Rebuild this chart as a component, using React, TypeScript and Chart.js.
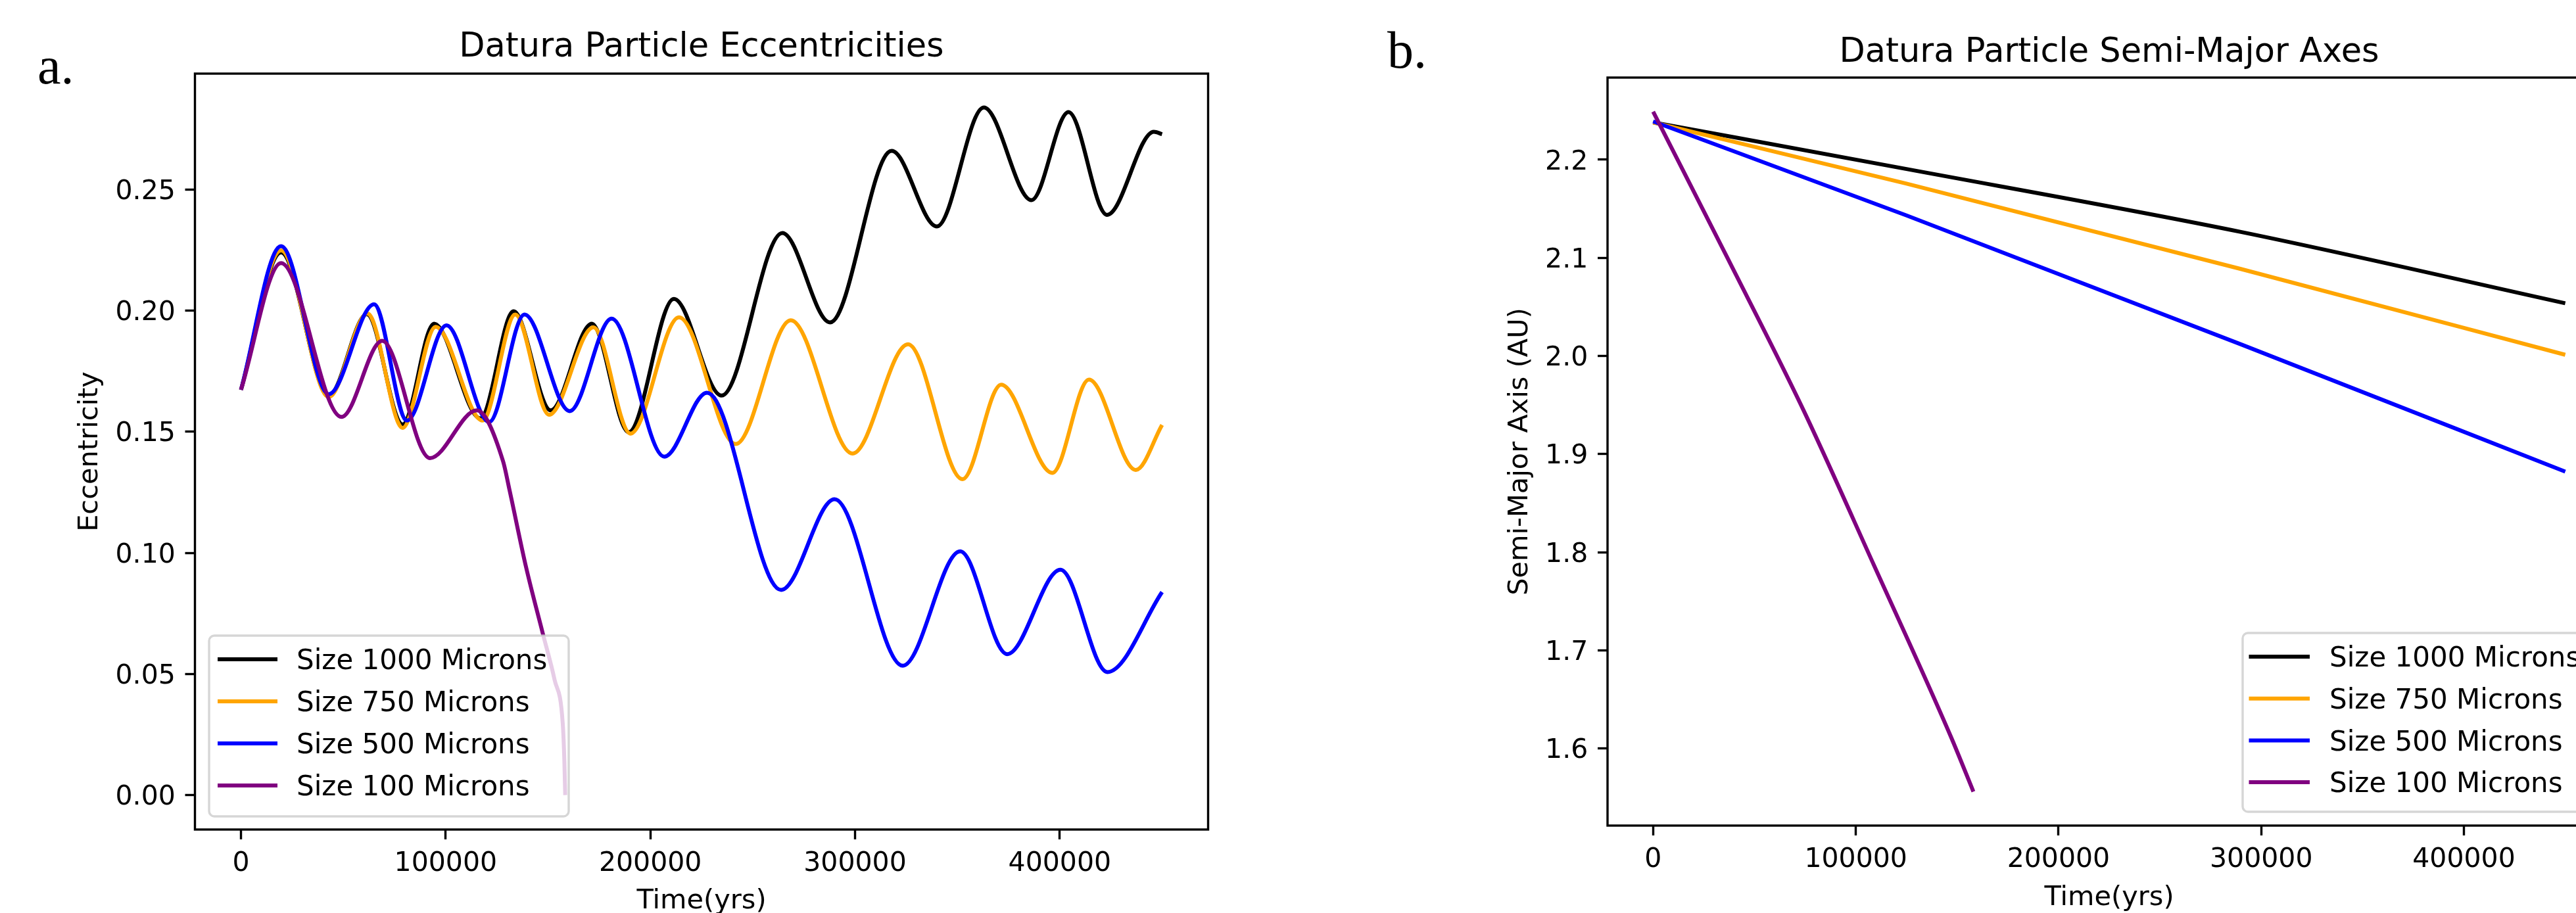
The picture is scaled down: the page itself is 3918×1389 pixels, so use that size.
import React, { useEffect, useRef } from "react";
import { Chart, registerables } from "chart.js";

Chart.register(...registerables);

const SANS = "'DejaVu Sans', 'Liberation Sans', sans-serif";
const SERIF = "'Liberation Serif', 'DejaVu Serif', serif";

// ---------- shared ----------
const seriesLabels = ["Size 1000 Microns", "Size 750 Microns", "Size 500 Microns", "Size 100 Microns"];
const seriesColors = ["#000000", "#ffa500", "#0000ff", "#800080"];
const timeTicks = [0, 100000, 200000, 300000, 400000];
const eccTicks = [0, 0.05, 0.1, 0.15, 0.2, 0.25];
const smaTicks = [1.6, 1.7, 1.8, 1.9, 2.0, 2.1, 2.2];

// ---------- panel a: eccentricities ----------
const ecc1000Time = [0, 19600, 42900, 61500, 79000, 94300, 117000, 133200, 151300, 171400, 189400, 211500, 234800, 264500, 287800, 317900, 340000, 362900, 386200, 404300, 423100, 446000, 450000];
const ecc1000Value = [0.1673, 0.224, 0.1649, 0.1985, 0.153, 0.1946, 0.1555, 0.1997, 0.1588, 0.1946, 0.1498, 0.2048, 0.1649, 0.232, 0.1951, 0.2659, 0.2347, 0.2838, 0.2456, 0.2819, 0.2395, 0.2738, 0.2728];

const ecc750Time = [0, 19600, 42900, 61800, 79000, 95100, 118000, 134000, 150500, 172200, 190300, 214000, 241700, 268600, 298800, 325900, 352500, 371400, 396400, 414300, 437200, 450000];
const ecc750Value = [0.1673, 0.2248, 0.1643, 0.1988, 0.1516, 0.1933, 0.1546, 0.1984, 0.157, 0.1931, 0.1492, 0.1972, 0.1449, 0.196, 0.141, 0.1861, 0.1304, 0.1694, 0.133, 0.1715, 0.1342, 0.1528];

const ecc500Time = [0, 19600, 42900, 65000, 81100, 100400, 121300, 138500, 160600, 181100, 206800, 227700, 263900, 290000, 323300, 351400, 374300, 400400, 423300, 450000];
const ecc500Value = [0.1673, 0.2266, 0.1655, 0.2026, 0.1546, 0.1939, 0.154, 0.1984, 0.1585, 0.1967, 0.1397, 0.1661, 0.0847, 0.1221, 0.0534, 0.1006, 0.0582, 0.093, 0.0508, 0.0838];

const ecc100Time = [0, 19600, 49100, 69000, 92300, 115200, 128000, 131200, 139300, 147300, 153200, 157200, 157950, 158400];
const ecc100Value = [0.1673, 0.2196, 0.1561, 0.1875, 0.1391, 0.1588, 0.1379, 0.1259, 0.094, 0.0672, 0.0476, 0.0295, 0.0151, 0.0];

// ---------- panel b: semi-major axes ----------
const sma1000Time = [0, 125000, 290000, 450000];
const sma1000Value = [2.238, 2.1905, 2.1264, 2.0537];
const sma750Time = [0, 125000, 290000, 450000];
const sma750Value = [2.238, 2.1756, 2.0886, 2.0012];
const sma500Time = [0, 125000, 290000, 450000];
const sma500Value = [2.239, 2.1432, 2.0118, 1.8821];
const sma100Time = [0, 37000, 74000, 109000, 147000, 158000];
const sma100Value = [2.249, 2.0985, 1.9455, 1.7865, 1.6115, 1.556];

const pts = (t: number[], v: number[]) => t.map((x, i) => ({ x, y: v[i] }));

function makeDatasets(series: { t: number[]; v: number[] }[]) {
  return series.map((s, i) => ({
    label: seriesLabels[i],
    data: pts(s.t, s.v),
    borderColor: seriesColors[i],
    backgroundColor: seriesColors[i],
    borderWidth: 6,
    pointRadius: 0,
    fill: false,
    tension: 0,
    cubicInterpolationMode: "monotone",
    borderJoinStyle: "round",
    order: 3 - i,
  }));
}

type Deco = {
  title: string;
  titleY: number;
  letter: string;
  letterX: number;
  letterY: number;
  lx: number; ly: number; lw: number; lh: number;
  row0: number; rowStep: number; h0: number; h1: number; tx: number;
};

function decoPlugin(d: Deco) {
  return {
    id: "deco",
    afterDraw(chart: any) {
      const ctx = chart.ctx as CanvasRenderingContext2D;
      const a = chart.chartArea;
      ctx.save();
      // frame
      ctx.strokeStyle = "#000";
      ctx.lineWidth = 3.4;
      ctx.strokeRect(a.left, a.top, a.right - a.left, a.bottom - a.top);
      // legend box
      const r = 8;
      const { lx, ly, lw, lh } = d;
      ctx.beginPath();
      ctx.moveTo(lx + r, ly);
      ctx.lineTo(lx + lw - r, ly);
      ctx.arcTo(lx + lw, ly, lx + lw, ly + r, r);
      ctx.lineTo(lx + lw, ly + lh - r);
      ctx.arcTo(lx + lw, ly + lh, lx + lw - r, ly + lh, r);
      ctx.lineTo(lx + r, ly + lh);
      ctx.arcTo(lx, ly + lh, lx, ly + lh - r, r);
      ctx.lineTo(lx, ly + r);
      ctx.arcTo(lx, ly, lx + r, ly, r);
      ctx.closePath();
      ctx.fillStyle = "rgba(255,255,255,0.8)";
      ctx.fill();
      ctx.strokeStyle = "rgba(204,204,204,0.8)";
      ctx.lineWidth = 3.4;
      ctx.stroke();
      ctx.font = `42px ${SANS}`;
      ctx.textAlign = "left";
      ctx.textBaseline = "alphabetic";
      seriesLabels.forEach((lab, i) => {
        const cy = d.row0 + i * d.rowStep;
        ctx.strokeStyle = seriesColors[i];
        ctx.lineWidth = 6;
        ctx.beginPath();
        ctx.moveTo(d.h0, cy);
        ctx.lineTo(d.h1, cy);
        ctx.stroke();
        ctx.fillStyle = "#000";
        ctx.fillText(lab, d.tx, cy + 15.3);
      });
      // title
      ctx.fillStyle = "#000";
      ctx.font = `51px ${SANS}`;
      ctx.textAlign = "center";
      ctx.fillText(d.title, (a.left + a.right) / 2, d.titleY);
      // panel letter
      ctx.font = `80px ${SERIF}`;
      ctx.textAlign = "left";
      ctx.fillText(d.letter, d.letterX, d.letterY);
      ctx.restore();
    },
  };
}

type Cfg = {
  top: number;
  padRight: number;
  yAxisW: number;
  xAxisH: number;
  yMin: number;
  yMax: number;
  yTicks: number[];
  yDec: number;
  yTitle: string;
  yTitlePad: number;
  xTitlePad: number;
};

function buildOptions(c: Cfg): any {
  const grid = {
    display: true,
    drawOnChartArea: false,
    drawTicks: true,
    tickLength: 15,
    tickWidth: 3.4,
    tickColor: "#000",
    color: "#000",
  };
  const tickFont = { family: SANS, size: 41 };
  const titleFont = { family: SANS, size: 41.5 };
  return {
    responsive: false,
    maintainAspectRatio: false,
    animation: false,
    devicePixelRatio: 1,
    events: [],
    layout: { padding: { left: 0, top: c.top, right: c.padRight, bottom: 0 } },
    plugins: { legend: { display: false }, title: { display: false }, tooltip: { enabled: false } },
    scales: {
      x: {
        type: "linear",
        min: -22500,
        max: 472500,
        afterBuildTicks: (s: any) => {
          s.ticks = timeTicks.map((v) => ({ value: v }));
        },
        afterFit: (s: any) => {
          s.height = c.xAxisH;
        },
        grid,
        border: { display: false },
        ticks: {
          color: "#000",
          font: tickFont,
          padding: 12.7,
          maxRotation: 0,
          minRotation: 0,
          autoSkip: false,
          callback: (v: any) => String(v),
        },
        title: {
          display: true,
          text: "Time(yrs)",
          color: "#000",
          font: titleFont,
          padding: { top: 0, bottom: c.xTitlePad },
        },
      },
      y: {
        type: "linear",
        min: c.yMin,
        max: c.yMax,
        afterBuildTicks: (s: any) => {
          s.ticks = c.yTicks.map((v) => ({ value: v }));
        },
        afterFit: (s: any) => {
          s.width = c.yAxisW;
        },
        grid,
        border: { display: false },
        ticks: {
          color: "#000",
          font: tickFont,
          padding: 14.7,
          labelOffset: 4,
          autoSkip: false,
          callback: (v: any) => Number(v).toFixed(c.yDec),
        },
        title: {
          display: true,
          text: c.yTitle,
          color: "#000",
          font: titleFont,
          padding: { top: c.yTitlePad, bottom: 0 },
        },
      },
    },
  };
}

export default function App() {
  const refA = useRef<HTMLCanvasElement | null>(null);
  const refB = useRef<HTMLCanvasElement | null>(null);

  useEffect(() => {
    Chart.defaults.font.family = SANS;
    const chartA = new Chart(refA.current as HTMLCanvasElement, {
      type: "line",
      data: {
        datasets: makeDatasets([
          { t: ecc1000Time, v: ecc1000Value },
          { t: ecc750Time, v: ecc750Value },
          { t: ecc500Time, v: ecc500Value },
          { t: ecc100Time, v: ecc100Value },
        ]) as any,
      },
      options: buildOptions({
        top: 112,
        padRight: 1900 - 1837.5,
        yAxisW: 296.5,
        xAxisH: 1420 - 1262,
        yMin: -0.0142,
        yMax: 0.2978,
        yTicks: eccTicks,
        yDec: 2,
        yTitle: "Eccentricity",
        yTitlePad: 112,
        xTitlePad: 23.6,
      }),
      plugins: [
        decoPlugin({
          title: "Datura Particle Eccentricities",
          titleY: 86,
          letter: "a.",
          letterX: 57,
          letterY: 127,
          lx: 318, ly: 967, lw: 547, lh: 275,
          row0: 1003, rowStep: 64, h0: 331, h1: 422, tx: 451,
        }),
      ],
    });

    const chartB = new Chart(refB.current as HTMLCanvasElement, {
      type: "line",
      data: {
        datasets: makeDatasets([
          { t: sma1000Time, v: sma1000Value },
          { t: sma750Time, v: sma750Value },
          { t: sma500Time, v: sma500Value },
          { t: sma100Time, v: sma100Value },
        ]) as any,
      },
      options: buildOptions({
        top: 118,
        padRight: 2000 - 1971,
        yAxisW: 445,
        xAxisH: 1420 - 1256,
        yMin: 1.5214,
        yMax: 2.2837,
        yTicks: smaTicks,
        yDec: 1,
        yTitle: "Semi-Major Axis (AU)",
        yTitlePad: 287,
        xTitlePad: 29.1,
      }),
      plugins: [
        decoPlugin({
          title: "Datura Particle Semi-Major Axes",
          titleY: 93.5,
          letter: "b.",
          letterX: 110,
          letterY: 102.7,
          lx: 1411, ly: 963, lw: 539, lh: 272,
          row0: 999, rowStep: 63.7, h0: 1420.5, h1: 1513, tx: 1543,
        }),
      ],
    });

    return () => {
      chartA.destroy();
      chartB.destroy();
    };
  }, []);

  return (
    <div
      style={{
        position: "fixed",
        left: 0,
        top: 0,
        width: 3918,
        height: 1389,
        overflow: "hidden",
        background: "#ffffff",
      }}
    >
      <canvas
        ref={refA}
        width={1900}
        height={1420}
        style={{ position: "absolute", left: 0, top: 0, width: 1900, height: 1420 }}
      />
      <canvas
        ref={refB}
        width={2000}
        height={1420}
        style={{ position: "absolute", left: 2000, top: 0, width: 2000, height: 1420 }}
      />
    </div>
  );
}
